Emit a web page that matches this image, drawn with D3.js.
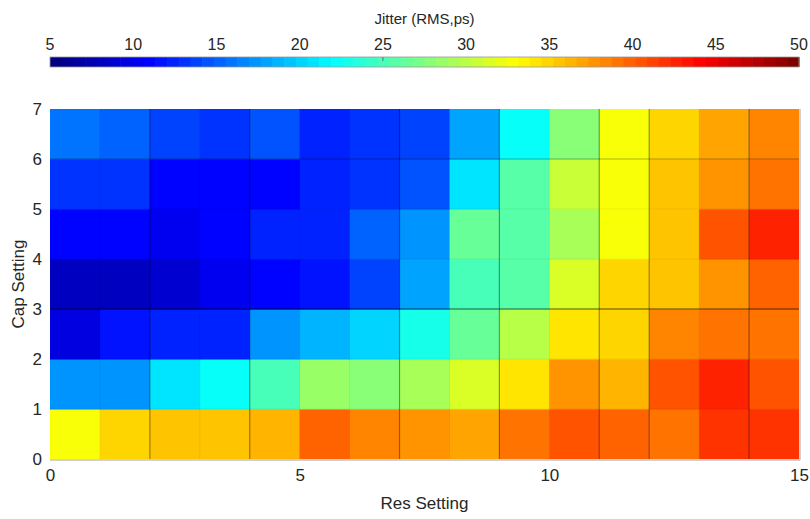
<!DOCTYPE html>
<html>
<head>
<meta charset="utf-8">
<script src="https://cdn.jsdelivr.net/npm/d3@7"></script>
<style>
  body { margin: 0; background: #fff; }
  text { font-family: "Liberation Sans", Arial, sans-serif; fill: #262626; }
</style>
</head>
<body>
<svg id="chart" width="810" height="519"></svg>
<script>
// Res setting (columns) and Cap setting (rows)
var resSettings = d3.range(0, 15);
var capSettings = d3.range(0, 7);
var xTicks = [0, 5, 10, 15];
var yTicks = [0, 1, 2, 3, 4, 5, 6, 7];
var cbarTicks = [5, 10, 15, 20, 25, 30, 35, 40, 45, 50];

// jitter values (RMS, ps), one array per cap setting, bottom row first
var jitterCap0 = [33.1, 34.8, 35.4, 35.4, 36.2, 39.6, 38.2, 37.5, 37.3, 39.4, 40.4, 40.1, 39.4, 41.6, 41.6];
var jitterCap1 = [17.0, 17.5, 20.9, 21.9, 24.7, 28.6, 27.5, 29.6, 31.4, 34.1, 38.0, 36.1, 40.4, 42.3, 40.4];
var jitterCap2 = [9.6, 12.0, 12.7, 12.7, 17.0, 18.4, 19.8, 22.6, 26.1, 30.0, 34.1, 34.8, 38.2, 39.4, 38.8];
var jitterCap3 = [8.2, 8.2, 8.9, 10.4, 11.3, 12.0, 14.1, 17.7, 24.7, 25.4, 31.4, 34.8, 35.4, 38.0, 40.1];
var jitterCap4 = [11.3, 11.3, 10.6, 11.3, 12.4, 12.7, 15.1, 17.0, 26.4, 25.4, 29.3, 33.1, 35.4, 40.4, 42.3];
var jitterCap5 = [13.0, 13.0, 11.3, 11.3, 11.0, 12.7, 13.4, 14.7, 20.5, 25.4, 30.7, 33.1, 35.4, 37.5, 38.8];
var jitterCap6 = [15.7, 15.1, 14.1, 13.4, 14.3, 12.7, 13.1, 14.1, 18.0, 21.9, 28.2, 33.1, 34.8, 36.9, 38.2];
var jitter = [jitterCap0, jitterCap1, jitterCap2, jitterCap3, jitterCap4, jitterCap5, jitterCap6];

// darker seams between stitched tiles
var seamX = [2, 4, 7, 9, 11, 12, 14];
var seamY = [3, 6];

// matlab style jet map
function jet(t) {
    var r = Math.min(Math.max(Math.min(4 * t - 1.5, -4 * t + 4.5), 0), 1);
    var g = Math.min(Math.max(Math.min(4 * t - 0.5, -4 * t + 3.5), 0), 1);
    var b = Math.min(Math.max(Math.min(4 * t + 0.5, -4 * t + 2.5), 0), 1);
    return d3.rgb(r * 255, g * 255, b * 255).toString();
}
var levels = 64;
var jetQ = function (t) {
    var k = Math.min(levels - 1, Math.floor(t * levels));
    return jet(k / (levels - 1));
};

var svg = d3.select('#chart');
var margin = {left: 50, right: 11, top: 109, bottom: 60};
var width = 810 - margin.left - margin.right;
var height = 519 - margin.top - margin.bottom;

var color = d3.scaleSequential(jetQ).domain([5, 50]);
var x = d3.scaleLinear().domain([0, 15]).range([0, width]);
var y = d3.scaleLinear().domain([0, 7]).range([height, 0]);

var g = svg.append('g').attr('transform', 'translate(' + margin.left + ',' + margin.top + ')');

// cells
var cells = [];
jitter.forEach(function (row, j) {
    row.forEach(function (v, i) {
        cells.push({res: resSettings[i], cap: capSettings[j], v: v});
    });
});

g.selectAll('rect.cell')
    .data(cells)
    .enter().append('rect')
    .attr('class', 'cell')
    .attr('x', function (d) { return x(d.res); })
    .attr('y', function (d) { return y(d.cap + 1); })
    .attr('width', x(1) - x(0) + 0.5)
    .attr('height', y(0) - y(1) + 0.5)
    .attr('fill', function (d) { return color(d.v); });

// faint cell borders
g.selectAll('line.vgrid')
    .data(d3.range(1, 15))
    .enter().append('line')
    .attr('x1', function (d) { return x(d); })
    .attr('x2', function (d) { return x(d); })
    .attr('y1', 0).attr('y2', height)
    .attr('stroke', 'rgba(0,0,0,0.06)');
g.selectAll('line.hgrid')
    .data(d3.range(1, 7))
    .enter().append('line')
    .attr('y1', function (d) { return y(d); })
    .attr('y2', function (d) { return y(d); })
    .attr('x1', 0).attr('x2', width)
    .attr('stroke', 'rgba(0,0,0,0.06)');

g.selectAll('line.seamx')
    .data(seamX)
    .enter().append('line')
    .attr('x1', function (d) { return x(d); })
    .attr('x2', function (d) { return x(d); })
    .attr('y1', 0).attr('y2', height)
    .attr('stroke', 'rgba(0,0,0,0.35)')
    .attr('stroke-width', 1.2);
g.selectAll('line.seamy')
    .data(seamY)
    .enter().append('line')
    .attr('y1', function (d) { return y(d); })
    .attr('y2', function (d) { return y(d); })
    .attr('x1', 0).attr('x2', width)
    .attr('stroke', function (d) { return d === 3 ? 'rgba(0,0,0,0.6)' : 'rgba(0,0,0,0.25)'; })
    .attr('stroke-width', 1.2);

// light frame on bottom and right
g.append('line').attr('x1', 0).attr('x2', width + 1).attr('y1', height + 1).attr('y2', height + 1)
    .attr('stroke', '#d0d0d0').attr('stroke-width', 2);
g.append('line').attr('x1', width + 1).attr('x2', width + 1).attr('y1', 0).attr('y2', height + 1)
    .attr('stroke', '#d0d0d0').attr('stroke-width', 2);

// axes
var xAxis = d3.axisBottom(x).tickValues(xTicks).tickSize(0).tickPadding(10).tickFormat(d3.format('d'));
var yAxis = d3.axisLeft(y).tickValues(yTicks).tickSize(0).tickPadding(8).tickFormat(d3.format('d'));

var gx = g.append('g').attr('transform', 'translate(0,' + height + ')').call(xAxis);
var gy = g.append('g').call(yAxis);
[gx, gy].forEach(function (a) {
    a.select('.domain').remove();
    a.selectAll('text').style('font-size', '17px').style('font-family', '"Liberation Sans", Arial, sans-serif').attr('fill', '#262626');
});

g.append('text')
    .attr('x', width / 2)
    .attr('y', height + 50)
    .attr('text-anchor', 'middle')
    .style('font-size', '17px')
    .text('Res Setting');

g.append('text')
    .attr('transform', 'translate(' + (-26) + ',' + (height / 2) + ') rotate(-90)')
    .attr('text-anchor', 'middle')
    .style('font-size', '17px')
    .text('Cap Setting');

// colorbar
var cb = svg.append('g').attr('transform', 'translate(' + margin.left + ',57)');
var cbX = d3.scaleLinear().domain([5, 50]).range([0, width]);
var steps = d3.range(levels).map(function (k) { return 5 + k * 45 / levels; });
cb.selectAll('rect')
    .data(steps)
    .enter().append('rect')
    .attr('x', function (d) { return cbX(d); })
    .attr('y', 0)
    .attr('width', width / levels + 0.6)
    .attr('height', 10)
    .attr('fill', function (d) { return color(d + 0.01); });
cb.append('rect')
    .attr('width', width).attr('height', 10)
    .attr('fill', 'none').attr('stroke', '#9a9a9a').attr('stroke-width', 0.8);
cb.append('line')
    .attr('x1', cbX(25)).attr('x2', cbX(25)).attr('y1', 0).attr('y2', 4)
    .attr('stroke', '#555').attr('stroke-width', 0.8);

cb.selectAll('text.tick')
    .data(cbarTicks)
    .enter().append('text')
    .attr('class', 'tick')
    .attr('x', function (d) { return cbX(d); })
    .attr('y', -7)
    .attr('text-anchor', 'middle')
    .style('font-size', '16px')
    .text(function (d) { return d; });

svg.append('text')
    .attr('x', margin.left + width / 2)
    .attr('y', 24)
    .attr('text-anchor', 'middle')
    .style('font-size', '15px')
    .text('Jitter (RMS,ps)');
</script>
</body>
</html>
